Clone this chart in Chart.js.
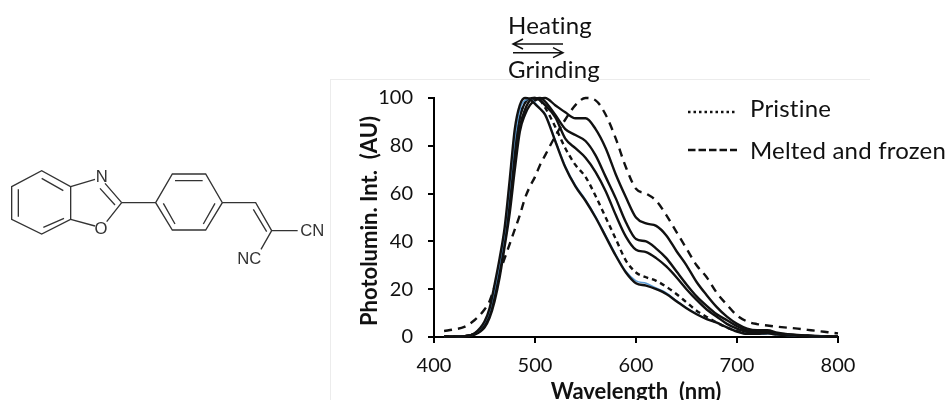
<!DOCTYPE html>
<html lang="en">
<head>
<meta charset="UTF-8">
<title>Photoluminescence spectra</title>
<script src="https://cdn.jsdelivr.net/npm/chart.js"></script>
<style>
    html, body { margin: 0; padding: 0; background: #fff; }
    #wrap { position: relative; width: 949px; height: 400px; overflow: hidden; font-family: Lato, sans-serif; color: #111; }
    #wrap canvas { position: absolute; left: 0; top: 0; }
    .frame-h { position: absolute; left: 330px; top: 79px; width: 540px; height: 1px; background: #ececec; }
    .frame-v { position: absolute; left: 330px; top: 79px; width: 1px; height: 321px; background: #ececec; }
    .note { position: absolute; font-size: 24px; line-height: 28px; white-space: nowrap; letter-spacing: 0.2px; }
    svg.over { position: absolute; overflow: visible; }
</style>
</head>
<body>
<div id="wrap">
    <div class="frame-h"></div>
    <div class="frame-v"></div>
    <canvas id="chart" width="949" height="400"></canvas>

    <!-- molecule, coordinates are 3x so they can be read off a zoomed crop -->
    <svg class="over" style="left:0;top:150px" width="340" height="120" viewBox="0 0 1020 360">
        <g fill="none" stroke="#333" stroke-width="4">
            <path d="M35 110L125 62L212 110V208L125 252L35 208Z"/>
            <path d="M55 118V200M125 85L190 122M130 232L192 205"/>
            <path d="M212 110L285 88M315 100L365 158M300 115L345 165M365 158L320 215M212 208L285 228"/>
            <path d="M365 158H467"/>
            <path d="M467 158L517 72H617L667 158L617 240H517Z"/>
            <path d="M525 92H608M645 160L610 222M490 160L525 222"/>
            <path d="M667 158H767L815 242M760 178L800 245M815 242H893M815 242L783 298"/>
        </g>
        <g font-family="Liberation Sans, sans-serif" font-size="50" fill="#333" text-anchor="middle">
            <text x="305" y="96">N</text>
            <text x="303" y="253">O</text>
            <text x="937" y="258">CN</text>
            <text x="748" y="343">NC</text>
        </g>
    </svg>

    <!-- heating / grinding arrows -->
    <div class="note" style="left:508px;top:11px">Heating</div>
    <div class="note" style="left:508px;top:55px">Grinding</div>
    <svg class="over" style="left:0;top:0" width="949" height="80">
        <g fill="none" stroke="#111" stroke-width="1.5">
            <path d="M513 44H563M523 39L513 44L523 49"/>
            <path d="M513 52.7H563M553 47.7L563 52.7L553 57.7"/>
        </g>
    </svg>

    <!-- legend -->
    <svg class="over" style="left:0;top:0" width="949" height="170">
        <path d="M688 112H737" stroke="#111" stroke-width="2.5" stroke-dasharray="2.5 3" fill="none"/>
        <path d="M688 150H737" stroke="#111" stroke-width="2.5" stroke-dasharray="7.5 3" fill="none"/>
    </svg>
    <div class="note" id="legendA" style="left:750px;top:94px"></div>
    <div class="note" id="legendB" style="left:750px;top:136px"></div>
</div>

<script>
    const wavelengths = [410, 420, 430, 440, 450, 455, 460, 465, 470, 475, 480, 485, 490, 495, 500, 505, 510,
        520, 530, 540, 550, 560, 570, 580, 590, 600, 610, 620, 630, 640, 650, 660, 670, 680, 690, 700,
        710, 720, 730, 740, 750, 760, 770, 780, 790, 800];

    const curve1 = [0.1, 0.1, 0.3, 1.5, 6.5, 12, 22, 33, 46, 66, 87, 97, 100, 99.5, 97.5, 95.5, 93,
        82, 71, 63, 57, 50, 42, 34, 27, 22.5, 21.5, 20, 18, 15, 12, 9.5, 7.5, 6, 4, 2.3,
        1.3, 1.3, 1.5, 1, 0.7, 0.5, 0.3, 0.2, 0.1, 0.1];
    const curveBlue = [0.1, 0.1, 0.3, 1.4, 6, 11, 20, 31, 44, 63, 83, 95, 99, 99.5, 98, 95.5, 93.5,
        82.5, 71.5, 63.5, 57.5, 50.5, 42.5, 34.5, 27.5, 23.5, 22.5, 20.5, 18.5, 15.2, 12.2, 9.7, 7.6, 6, 4, 2.3,
        1.3, 1.2, 1.4, 0.9, 0.6, 0.4, 0.3, 0.2, 0.1, 0.1];
    const curve2 = [0.1, 0.1, 0.3, 1.3, 5.5, 10.5, 19, 30, 43, 61, 79, 92, 98, 99.8, 100, 99, 97,
        92, 83, 79, 75, 69, 61, 51, 42, 36.5, 35.5, 33, 29.5, 25, 20, 15.5, 11.5, 8.5, 5.5, 3.5,
        2.2, 2, 2, 1.3, 1, 0.7, 0.5, 0.3, 0.2, 0.1];
    const curve3 = [0.1, 0.1, 0.3, 1.2, 5, 9.5, 17, 28, 41, 57, 74, 88, 95, 99, 99.8, 100, 98.5,
        93, 87, 84.5, 82, 76, 67, 58, 48, 41, 40, 37, 33, 27.5, 22, 17, 13, 9.5, 7, 4.5,
        2.8, 2.3, 2.2, 1.5, 1.1, 0.8, 0.5, 0.3, 0.2, 0.1];
    const curve4 = [0.1, 0.1, 0.2, 1, 4, 8, 15, 25, 38, 52, 70, 86, 93, 97, 99, 99.8, 100,
        97, 94, 91.5, 91.5, 87, 79, 68, 58.5, 50, 47.5, 46.5, 42.5, 36, 30, 23, 17.5, 12.5, 8.5, 5.5,
        3.5, 2.8, 2.8, 1.8, 1.2, 0.9, 0.6, 0.4, 0.2, 0.1];
    const pristine = [0.1, 0.1, 0.3, 1.3, 5, 10, 19, 30, 44, 62, 80, 92, 98, 99.8, 100, 99, 96,
        88, 79, 72, 67, 59, 50, 41, 32, 27, 25, 23.5, 21, 18, 14.5, 11, 8.4, 6, 4, 2.5,
        1.5, 1.4, 1.5, 1, 0.7, 0.5, 0.3, 0.2, 0.1, 0.1];
    const melted = [2.5, 3.2, 4.2, 7, 11.5, 15, 21, 27, 33, 39, 45, 51, 58, 63, 67, 72, 76,
        84, 91, 97, 100, 99, 93, 83, 71, 62, 60, 57, 51, 44, 37, 30, 25, 18.5, 13.5, 9,
        6.5, 5.4, 4.8, 4.3, 3.9, 3.5, 3, 2.5, 2, 1.5];

    const seriesNames = ['Pristine', 'Melted and frozen'];
    const xTicks = [400, 500, 600, 700, 800];
    const yTicks = [0, 20, 40, 60, 80, 100];

    document.getElementById('legendA').textContent = seriesNames[0];
    document.getElementById('legendB').textContent = seriesNames[1];

    function pts(values) {
        return values.map((v, i) => ({ x: wavelengths[i], y: v }));
    }

    function line(label, values, color, width, dash) {
        return {
            label: label,
            data: pts(values),
            borderColor: color,
            borderWidth: width,
            borderDash: dash || [],
            pointRadius: 0,
            cubicInterpolationMode: 'monotone',
            clip: false,
            fill: false
        };
    }

    function fixedTicks(list) {
        return scale => { scale.ticks = list.map(v => ({ value: v })); };
    }

    const axisFont = { family: 'Lato, sans-serif', size: 20 };
    const titleFont = { family: 'Lato, sans-serif', size: 22, weight: 'bold' };

    new Chart(document.getElementById('chart'), {
        type: 'line',
        data: {
            datasets: [
                line('Curve 1', curve1, '#111', 2.4),
                line('Curve 1 blue', curveBlue, '#5b9bd5', 1.5),
                line('Curve 2', curve2, '#111', 2.4),
                line('Curve 3', curve3, '#111', 2.4),
                line('Curve 4', curve4, '#111', 2.4),
                line(seriesNames[0], pristine, '#111', 2.4, [5, 4]),
                line(seriesNames[1], melted, '#111', 2.4, [8, 6])
            ]
        },
        options: {
            responsive: false,
            animation: false,
            layout: { padding: { top: 98, right: 111, left: 0, bottom: 0 } },
            plugins: { legend: { display: false }, tooltip: { enabled: false } },
            scales: {
                x: {
                    type: 'linear',
                    min: 400,
                    max: 800,
                    afterBuildTicks: fixedTicks(xTicks),
                    afterFit: s => { s.height = 63; },
                    grid: { drawOnChartArea: false, color: '#000', lineWidth: 2, tickLength: 6 },
                    border: { color: '#000', width: 2 },
                    ticks: { color: '#111', font: axisFont, maxRotation: 0, padding: 11 },
                    title: { display: true, text: 'Wavelength  (nm)', color: '#111', font: titleFont, padding: { top: 0, bottom: -5 } }
                },
                y: {
                    min: 0,
                    max: 100,
                    afterBuildTicks: fixedTicks(yTicks),
                    afterFit: s => { s.width = 434; },
                    grid: { drawOnChartArea: false, color: '#000', lineWidth: 2, tickLength: 6 },
                    border: { color: '#000', width: 2 },
                    ticks: { color: '#111', font: axisFont, padding: 15 },
                    title: { display: false }
                }
            }
        },
        plugins: [{
            // y title sits right next to the tick labels, not at the far left of the wide axis box
            id: 'yTitle',
            afterDraw(chart) {
                const c = chart.ctx;
                c.save();
                c.translate(370, 221);
                c.rotate(-Math.PI / 2);
                c.font = 'bold 22px Lato, sans-serif';
                c.fillStyle = '#111';
                c.textAlign = 'center';
                c.textBaseline = 'middle';
                c.fillText('Photolumin. Int.  (AU)', 0, 0);
                c.restore();
            }
        }]
    });
</script>
</body>
</html>
